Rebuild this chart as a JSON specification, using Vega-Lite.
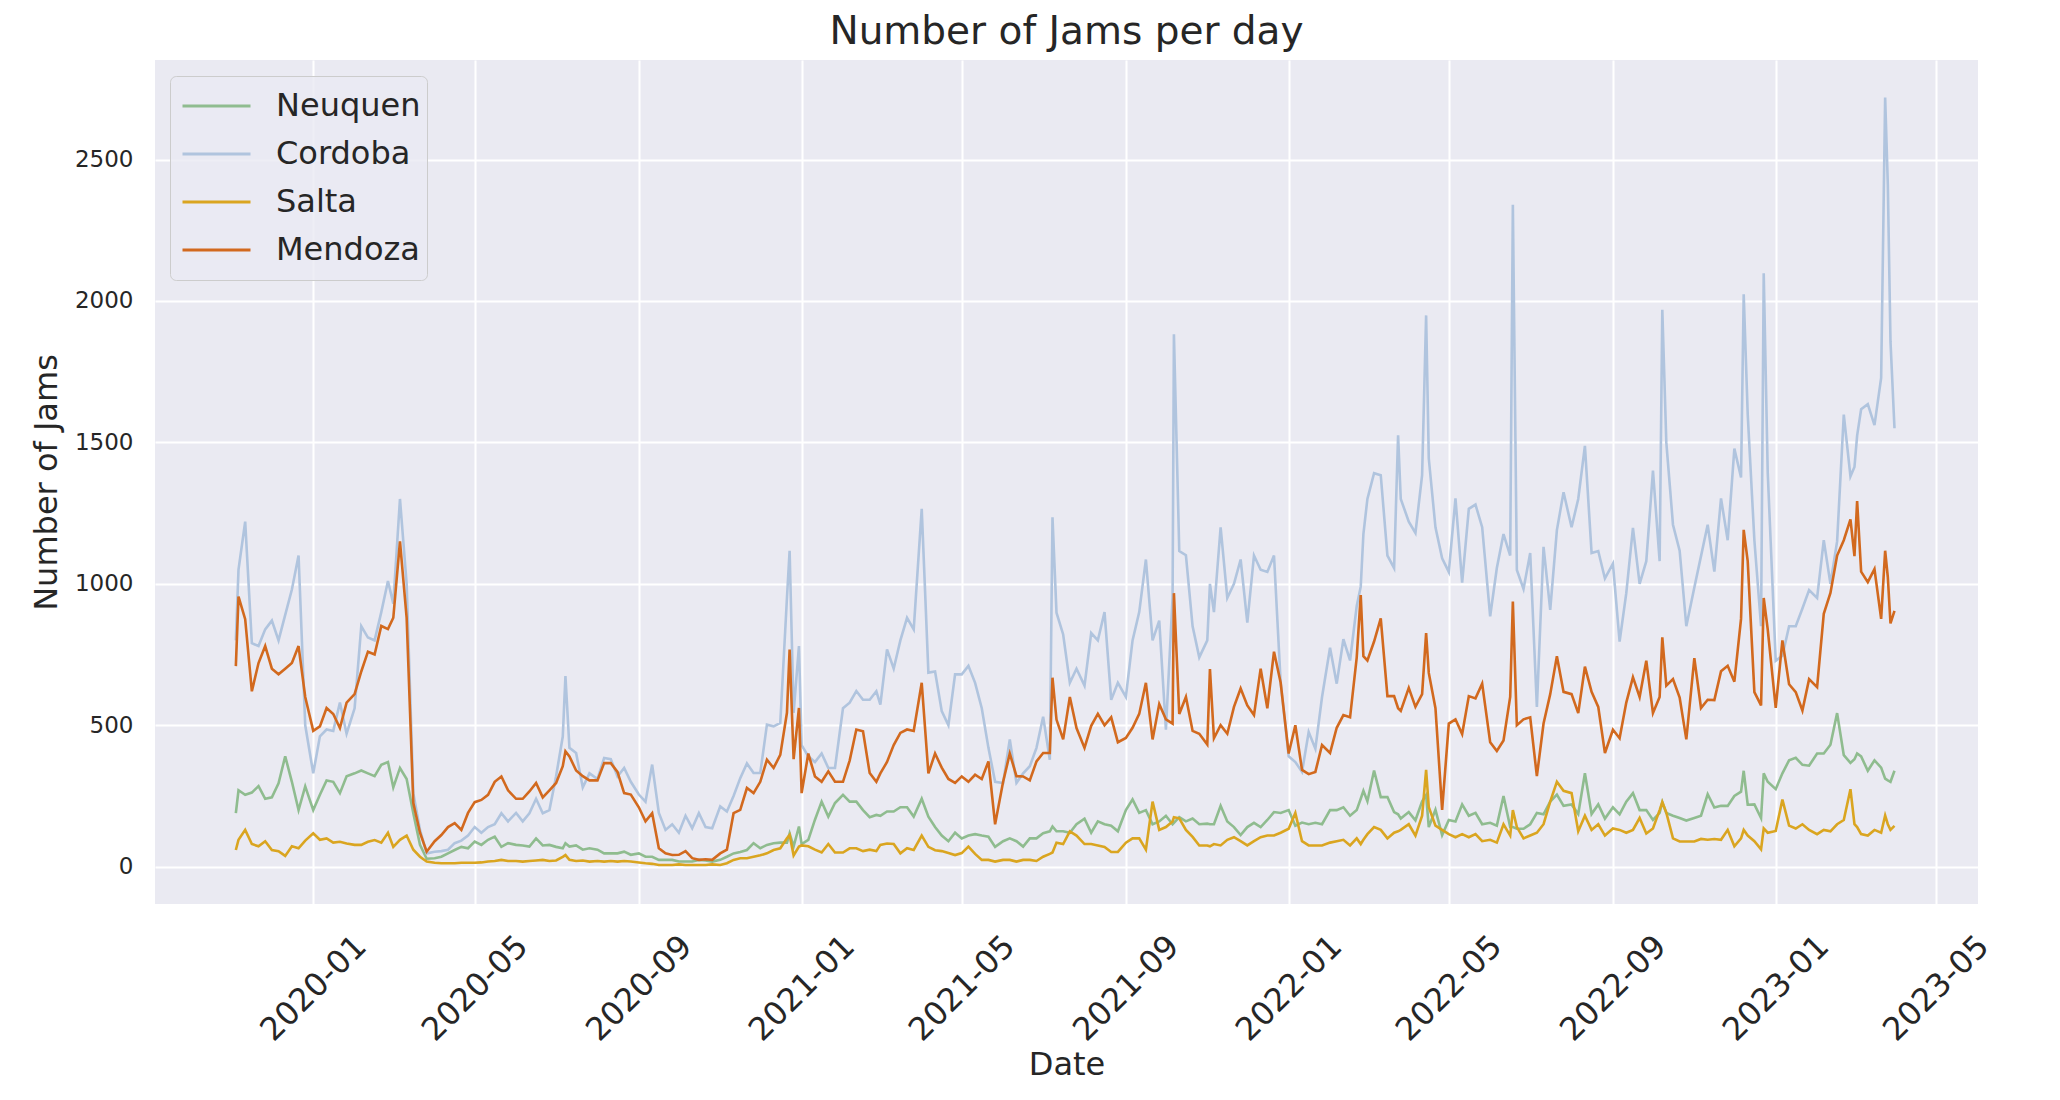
{
  "$schema": "https://vega.github.io/schema/vega-lite/v6.json",
  "width": 1823,
  "height": 844,
  "autosize": {"type": "none"},
  "padding": {"left": 155, "top": 60, "right": 82, "bottom": 196},
  "background": "#ffffff",
  "title": {
    "text": "Number of Jams per day",
    "font": "DejaVu Sans",
    "fontSize": 39,
    "fontWeight": "normal",
    "color": "#262626",
    "anchor": "middle",
    "offset": 8
  },
  "config": {
    "font": "DejaVu Sans",
    "view": {"fill": "#EAEAF2", "stroke": null}
  },
  "data": {
    "format": {"parse": {"d": "date"}},
    "values": [
      {"d":"2019-11-04","Neuquen":189,"Cordoba":800,"Salta":59,"Mendoza":709},
      {"d":"2019-11-06","Neuquen":270,"Cordoba":1050,"Salta":95,"Mendoza":955},
      {"d":"2019-11-11","Neuquen":254,"Cordoba":1220,"Salta":130,"Mendoza":875},
      {"d":"2019-11-16","Neuquen":262,"Cordoba":790,"Salta":80,"Mendoza":620},
      {"d":"2019-11-21","Neuquen":285,"Cordoba":780,"Salta":72,"Mendoza":720},
      {"d":"2019-11-26","Neuquen":240,"Cordoba":839,"Salta":90,"Mendoza":780},
      {"d":"2019-12-01","Neuquen":245,"Cordoba":870,"Salta":59,"Mendoza":700},
      {"d":"2019-12-06","Neuquen":295,"Cordoba":800,"Salta":55,"Mendoza":680},
      {"d":"2019-12-11","Neuquen":390,"Cordoba":890,"Salta":38,"Mendoza":700},
      {"d":"2019-12-16","Neuquen":300,"Cordoba":980,"Salta":72,"Mendoza":720},
      {"d":"2019-12-21","Neuquen":200,"Cordoba":1100,"Salta":65,"Mendoza":780},
      {"d":"2019-12-26","Neuquen":284,"Cordoba":500,"Salta":92,"Mendoza":600},
      {"d":"2020-01-01","Neuquen":200,"Cordoba":330,"Salta":118,"Mendoza":480},
      {"d":"2020-01-06","Neuquen":254,"Cordoba":461,"Salta":95,"Mendoza":496},
      {"d":"2020-01-11","Neuquen":305,"Cordoba":485,"Salta":100,"Mendoza":561},
      {"d":"2020-01-16","Neuquen":300,"Cordoba":480,"Salta":85,"Mendoza":540},
      {"d":"2020-01-21","Neuquen":260,"Cordoba":580,"Salta":88,"Mendoza":490},
      {"d":"2020-01-26","Neuquen":320,"Cordoba":470,"Salta":82,"Mendoza":580},
      {"d":"2020-02-01","Neuquen":330,"Cordoba":560,"Salta":77,"Mendoza":610},
      {"d":"2020-02-06","Neuquen":340,"Cordoba":850,"Salta":77,"Mendoza":690},
      {"d":"2020-02-11","Neuquen":330,"Cordoba":810,"Salta":88,"Mendoza":760},
      {"d":"2020-02-16","Neuquen":320,"Cordoba":800,"Salta":94,"Mendoza":750},
      {"d":"2020-02-21","Neuquen":360,"Cordoba":900,"Salta":85,"Mendoza":851},
      {"d":"2020-02-26","Neuquen":370,"Cordoba":1010,"Salta":120,"Mendoza":840},
      {"d":"2020-03-01","Neuquen":280,"Cordoba":930,"Salta":70,"Mendoza":880},
      {"d":"2020-03-06","Neuquen":349,"Cordoba":1300,"Salta":95,"Mendoza":1150},
      {"d":"2020-03-11","Neuquen":310,"Cordoba":1000,"Salta":110,"Mendoza":880},
      {"d":"2020-03-16","Neuquen":189,"Cordoba":260,"Salta":60,"Mendoza":225},
      {"d":"2020-03-21","Neuquen":77,"Cordoba":130,"Salta":35,"Mendoza":120},
      {"d":"2020-03-26","Neuquen":28,"Cordoba":47,"Salta":18,"Mendoza":53},
      {"d":"2020-04-01","Neuquen":30,"Cordoba":53,"Salta":14,"Mendoza":90},
      {"d":"2020-04-06","Neuquen":35,"Cordoba":55,"Salta":12,"Mendoza":112},
      {"d":"2020-04-11","Neuquen":47,"Cordoba":60,"Salta":12,"Mendoza":140},
      {"d":"2020-04-16","Neuquen":59,"Cordoba":83,"Salta":12,"Mendoza":154},
      {"d":"2020-04-21","Neuquen":70,"Cordoba":92,"Salta":14,"Mendoza":130},
      {"d":"2020-04-26","Neuquen":65,"Cordoba":110,"Salta":14,"Mendoza":190},
      {"d":"2020-05-01","Neuquen":89,"Cordoba":140,"Salta":14,"Mendoza":228},
      {"d":"2020-05-06","Neuquen":77,"Cordoba":120,"Salta":15,"Mendoza":236},
      {"d":"2020-05-11","Neuquen":95,"Cordoba":140,"Salta":18,"Mendoza":254},
      {"d":"2020-05-16","Neuquen":106,"Cordoba":150,"Salta":20,"Mendoza":300},
      {"d":"2020-05-21","Neuquen":70,"Cordoba":189,"Salta":24,"Mendoza":319},
      {"d":"2020-05-26","Neuquen":83,"Cordoba":160,"Salta":20,"Mendoza":270},
      {"d":"2020-06-01","Neuquen":77,"Cordoba":190,"Salta":20,"Mendoza":240},
      {"d":"2020-06-06","Neuquen":75,"Cordoba":160,"Salta":18,"Mendoza":240},
      {"d":"2020-06-11","Neuquen":71,"Cordoba":189,"Salta":20,"Mendoza":266},
      {"d":"2020-06-16","Neuquen":100,"Cordoba":240,"Salta":22,"Mendoza":296},
      {"d":"2020-06-21","Neuquen":75,"Cordoba":189,"Salta":24,"Mendoza":245},
      {"d":"2020-06-26","Neuquen":77,"Cordoba":200,"Salta":20,"Mendoza":270},
      {"d":"2020-07-01","Neuquen":70,"Cordoba":320,"Salta":22,"Mendoza":296},
      {"d":"2020-07-06","Neuquen":65,"Cordoba":460,"Salta":35,"Mendoza":355},
      {"d":"2020-07-08","Neuquen":83,"Cordoba":674,"Salta":41,"Mendoza":408},
      {"d":"2020-07-11","Neuquen":71,"Cordoba":420,"Salta":24,"Mendoza":390},
      {"d":"2020-07-16","Neuquen":75,"Cordoba":402,"Salta":20,"Mendoza":340},
      {"d":"2020-07-21","Neuquen":60,"Cordoba":280,"Salta":22,"Mendoza":320},
      {"d":"2020-07-26","Neuquen":65,"Cordoba":330,"Salta":18,"Mendoza":305},
      {"d":"2020-08-01","Neuquen":60,"Cordoba":310,"Salta":20,"Mendoza":305},
      {"d":"2020-08-06","Neuquen":47,"Cordoba":384,"Salta":18,"Mendoza":366},
      {"d":"2020-08-11","Neuquen":47,"Cordoba":380,"Salta":20,"Mendoza":366},
      {"d":"2020-08-16","Neuquen":47,"Cordoba":319,"Salta":18,"Mendoza":335},
      {"d":"2020-08-21","Neuquen":53,"Cordoba":349,"Salta":20,"Mendoza":260},
      {"d":"2020-08-26","Neuquen":42,"Cordoba":300,"Salta":18,"Mendoza":255},
      {"d":"2020-09-01","Neuquen":47,"Cordoba":255,"Salta":15,"Mendoza":210},
      {"d":"2020-09-06","Neuquen":35,"Cordoba":230,"Salta":12,"Mendoza":160},
      {"d":"2020-09-11","Neuquen":35,"Cordoba":361,"Salta":10,"Mendoza":189},
      {"d":"2020-09-16","Neuquen":24,"Cordoba":190,"Salta":6,"Mendoza":65},
      {"d":"2020-09-21","Neuquen":24,"Cordoba":130,"Salta":6,"Mendoza":47},
      {"d":"2020-09-26","Neuquen":24,"Cordoba":150,"Salta":6,"Mendoza":41},
      {"d":"2020-10-01","Neuquen":18,"Cordoba":120,"Salta":8,"Mendoza":42},
      {"d":"2020-10-06","Neuquen":18,"Cordoba":180,"Salta":6,"Mendoza":55},
      {"d":"2020-10-11","Neuquen":18,"Cordoba":136,"Salta":6,"Mendoza":30},
      {"d":"2020-10-16","Neuquen":24,"Cordoba":189,"Salta":6,"Mendoza":24},
      {"d":"2020-10-21","Neuquen":22,"Cordoba":140,"Salta":6,"Mendoza":26},
      {"d":"2020-10-26","Neuquen":18,"Cordoba":136,"Salta":8,"Mendoza":24},
      {"d":"2020-11-01","Neuquen":24,"Cordoba":213,"Salta":6,"Mendoza":47},
      {"d":"2020-11-06","Neuquen":35,"Cordoba":195,"Salta":12,"Mendoza":60},
      {"d":"2020-11-11","Neuquen":47,"Cordoba":250,"Salta":24,"Mendoza":189},
      {"d":"2020-11-16","Neuquen":52,"Cordoba":313,"Salta":30,"Mendoza":201},
      {"d":"2020-11-21","Neuquen":59,"Cordoba":365,"Salta":30,"Mendoza":278},
      {"d":"2020-11-26","Neuquen":83,"Cordoba":331,"Salta":35,"Mendoza":260},
      {"d":"2020-12-01","Neuquen":65,"Cordoba":331,"Salta":40,"Mendoza":300},
      {"d":"2020-12-06","Neuquen":77,"Cordoba":502,"Salta":47,"Mendoza":378},
      {"d":"2020-12-11","Neuquen":83,"Cordoba":496,"Salta":59,"Mendoza":349},
      {"d":"2020-12-16","Neuquen":85,"Cordoba":508,"Salta":65,"Mendoza":395},
      {"d":"2020-12-21","Neuquen":85,"Cordoba":950,"Salta":100,"Mendoza":544},
      {"d":"2020-12-23","Neuquen":118,"Cordoba":1117,"Salta":112,"Mendoza":768},
      {"d":"2020-12-26","Neuquen":71,"Cordoba":544,"Salta":40,"Mendoza":380},
      {"d":"2020-12-30","Neuquen":142,"Cordoba":780,"Salta":71,"Mendoza":561},
      {"d":"2021-01-01","Neuquen":80,"Cordoba":430,"Salta":75,"Mendoza":260},
      {"d":"2021-01-06","Neuquen":95,"Cordoba":390,"Salta":72,"Mendoza":400},
      {"d":"2021-01-11","Neuquen":166,"Cordoba":370,"Salta":60,"Mendoza":319},
      {"d":"2021-01-16","Neuquen":230,"Cordoba":400,"Salta":50,"Mendoza":300},
      {"d":"2021-01-21","Neuquen":177,"Cordoba":349,"Salta":80,"Mendoza":337},
      {"d":"2021-01-26","Neuquen":225,"Cordoba":349,"Salta":50,"Mendoza":300},
      {"d":"2021-02-01","Neuquen":254,"Cordoba":560,"Salta":50,"Mendoza":300},
      {"d":"2021-02-06","Neuquen":230,"Cordoba":580,"Salta":65,"Mendoza":375},
      {"d":"2021-02-11","Neuquen":230,"Cordoba":621,"Salta":65,"Mendoza":485},
      {"d":"2021-02-16","Neuquen":200,"Cordoba":590,"Salta":55,"Mendoza":479},
      {"d":"2021-02-21","Neuquen":175,"Cordoba":590,"Salta":60,"Mendoza":331},
      {"d":"2021-02-26","Neuquen":183,"Cordoba":620,"Salta":55,"Mendoza":300},
      {"d":"2021-03-01","Neuquen":180,"Cordoba":573,"Salta":77,"Mendoza":330},
      {"d":"2021-03-06","Neuquen":195,"Cordoba":768,"Salta":82,"Mendoza":370},
      {"d":"2021-03-11","Neuquen":195,"Cordoba":700,"Salta":80,"Mendoza":430},
      {"d":"2021-03-16","Neuquen":210,"Cordoba":800,"Salta":47,"Mendoza":473},
      {"d":"2021-03-21","Neuquen":210,"Cordoba":880,"Salta":65,"Mendoza":485},
      {"d":"2021-03-26","Neuquen":177,"Cordoba":839,"Salta":59,"Mendoza":480},
      {"d":"2021-04-01","Neuquen":240,"Cordoba":1265,"Salta":110,"Mendoza":650},
      {"d":"2021-04-06","Neuquen":177,"Cordoba":686,"Salta":70,"Mendoza":330},
      {"d":"2021-04-11","Neuquen":140,"Cordoba":690,"Salta":58,"Mendoza":400},
      {"d":"2021-04-16","Neuquen":110,"Cordoba":550,"Salta":55,"Mendoza":350},
      {"d":"2021-04-21","Neuquen":90,"Cordoba":500,"Salta":48,"Mendoza":310},
      {"d":"2021-04-26","Neuquen":120,"Cordoba":680,"Salta":41,"Mendoza":296},
      {"d":"2021-05-01","Neuquen":100,"Cordoba":680,"Salta":48,"Mendoza":319},
      {"d":"2021-05-06","Neuquen":110,"Cordoba":710,"Salta":71,"Mendoza":300},
      {"d":"2021-05-11","Neuquen":115,"Cordoba":650,"Salta":45,"Mendoza":325},
      {"d":"2021-05-16","Neuquen":110,"Cordoba":560,"Salta":24,"Mendoza":310},
      {"d":"2021-05-21","Neuquen":106,"Cordoba":420,"Salta":24,"Mendoza":372},
      {"d":"2021-05-26","Neuquen":70,"Cordoba":300,"Salta":18,"Mendoza":150},
      {"d":"2021-06-01","Neuquen":90,"Cordoba":296,"Salta":24,"Mendoza":300},
      {"d":"2021-06-06","Neuquen":100,"Cordoba":450,"Salta":24,"Mendoza":400},
      {"d":"2021-06-11","Neuquen":90,"Cordoba":296,"Salta":18,"Mendoza":320},
      {"d":"2021-06-16","Neuquen":71,"Cordoba":330,"Salta":24,"Mendoza":319},
      {"d":"2021-06-21","Neuquen":100,"Cordoba":355,"Salta":24,"Mendoza":305},
      {"d":"2021-06-26","Neuquen":100,"Cordoba":420,"Salta":20,"Mendoza":372},
      {"d":"2021-07-01","Neuquen":118,"Cordoba":530,"Salta":35,"Mendoza":402},
      {"d":"2021-07-06","Neuquen":125,"Cordoba":378,"Salta":45,"Mendoza":402},
      {"d":"2021-07-08","Neuquen":142,"Cordoba":1235,"Salta":50,"Mendoza":668},
      {"d":"2021-07-11","Neuquen":125,"Cordoba":898,"Salta":85,"Mendoza":520},
      {"d":"2021-07-16","Neuquen":125,"Cordoba":821,"Salta":80,"Mendoza":450},
      {"d":"2021-07-21","Neuquen":120,"Cordoba":650,"Salta":125,"Mendoza":600},
      {"d":"2021-07-26","Neuquen":150,"Cordoba":700,"Salta":110,"Mendoza":490},
      {"d":"2021-08-01","Neuquen":170,"Cordoba":640,"Salta":80,"Mendoza":420},
      {"d":"2021-08-06","Neuquen":120,"Cordoba":826,"Salta":80,"Mendoza":498},
      {"d":"2021-08-11","Neuquen":160,"Cordoba":800,"Salta":75,"Mendoza":540},
      {"d":"2021-08-16","Neuquen":150,"Cordoba":900,"Salta":70,"Mendoza":500},
      {"d":"2021-08-21","Neuquen":145,"Cordoba":590,"Salta":52,"Mendoza":528},
      {"d":"2021-08-26","Neuquen":125,"Cordoba":650,"Salta":52,"Mendoza":440},
      {"d":"2021-09-01","Neuquen":200,"Cordoba":600,"Salta":85,"Mendoza":455},
      {"d":"2021-09-06","Neuquen":238,"Cordoba":800,"Salta":100,"Mendoza":491},
      {"d":"2021-09-11","Neuquen":190,"Cordoba":900,"Salta":100,"Mendoza":540},
      {"d":"2021-09-16","Neuquen":200,"Cordoba":1086,"Salta":60,"Mendoza":650},
      {"d":"2021-09-21","Neuquen":150,"Cordoba":800,"Salta":230,"Mendoza":450},
      {"d":"2021-09-26","Neuquen":160,"Cordoba":870,"Salta":130,"Mendoza":575},
      {"d":"2021-10-01","Neuquen":180,"Cordoba":484,"Salta":140,"Mendoza":521},
      {"d":"2021-10-06","Neuquen":150,"Cordoba":952,"Salta":160,"Mendoza":506},
      {"d":"2021-10-07","Neuquen":155,"Cordoba":1882,"Salta":175,"Mendoza":967},
      {"d":"2021-10-11","Neuquen":175,"Cordoba":1116,"Salta":171,"Mendoza":540},
      {"d":"2021-10-16","Neuquen":160,"Cordoba":1101,"Salta":130,"Mendoza":600},
      {"d":"2021-10-21","Neuquen":170,"Cordoba":850,"Salta":105,"Mendoza":480},
      {"d":"2021-10-26","Neuquen":150,"Cordoba":740,"Salta":75,"Mendoza":470},
      {"d":"2021-11-01","Neuquen":152,"Cordoba":800,"Salta":75,"Mendoza":432},
      {"d":"2021-11-03","Neuquen":150,"Cordoba":1000,"Salta":72,"Mendoza":699},
      {"d":"2021-11-06","Neuquen":150,"Cordoba":900,"Salta":80,"Mendoza":454},
      {"d":"2021-11-11","Neuquen":215,"Cordoba":1200,"Salta":75,"Mendoza":500},
      {"d":"2021-11-16","Neuquen":160,"Cordoba":950,"Salta":95,"Mendoza":470},
      {"d":"2021-11-21","Neuquen":140,"Cordoba":1000,"Salta":104,"Mendoza":565},
      {"d":"2021-11-26","Neuquen":112,"Cordoba":1086,"Salta":90,"Mendoza":630},
      {"d":"2021-12-01","Neuquen":140,"Cordoba":863,"Salta":75,"Mendoza":570},
      {"d":"2021-12-06","Neuquen":155,"Cordoba":1100,"Salta":90,"Mendoza":536},
      {"d":"2021-12-11","Neuquen":140,"Cordoba":1050,"Salta":104,"Mendoza":700},
      {"d":"2021-12-16","Neuquen":165,"Cordoba":1042,"Salta":110,"Mendoza":560},
      {"d":"2021-12-21","Neuquen":193,"Cordoba":1100,"Salta":110,"Mendoza":760},
      {"d":"2021-12-26","Neuquen":190,"Cordoba":650,"Salta":120,"Mendoza":650},
      {"d":"2022-01-01","Neuquen":200,"Cordoba":390,"Salta":134,"Mendoza":400},
      {"d":"2022-01-06","Neuquen":145,"Cordoba":370,"Salta":190,"Mendoza":500},
      {"d":"2022-01-11","Neuquen":156,"Cordoba":335,"Salta":90,"Mendoza":342},
      {"d":"2022-01-16","Neuquen":150,"Cordoba":476,"Salta":75,"Mendoza":327},
      {"d":"2022-01-21","Neuquen":155,"Cordoba":417,"Salta":75,"Mendoza":335},
      {"d":"2022-01-26","Neuquen":150,"Cordoba":600,"Salta":75,"Mendoza":430},
      {"d":"2022-02-01","Neuquen":200,"Cordoba":774,"Salta":85,"Mendoza":402},
      {"d":"2022-02-06","Neuquen":200,"Cordoba":647,"Salta":90,"Mendoza":491},
      {"d":"2022-02-11","Neuquen":210,"Cordoba":804,"Salta":95,"Mendoza":536},
      {"d":"2022-02-16","Neuquen":180,"Cordoba":729,"Salta":75,"Mendoza":528},
      {"d":"2022-02-21","Neuquen":200,"Cordoba":922,"Salta":100,"Mendoza":740},
      {"d":"2022-02-24","Neuquen":240,"Cordoba":990,"Salta":80,"Mendoza":960},
      {"d":"2022-02-26","Neuquen":268,"Cordoba":1176,"Salta":95,"Mendoza":744},
      {"d":"2022-03-01","Neuquen":231,"Cordoba":1300,"Salta":115,"Mendoza":729},
      {"d":"2022-03-06","Neuquen":340,"Cordoba":1391,"Salta":140,"Mendoza":796},
      {"d":"2022-03-11","Neuquen":246,"Cordoba":1384,"Salta":130,"Mendoza":878},
      {"d":"2022-03-16","Neuquen":246,"Cordoba":1100,"Salta":100,"Mendoza":603},
      {"d":"2022-03-21","Neuquen":193,"Cordoba":1056,"Salta":120,"Mendoza":603},
      {"d":"2022-03-24","Neuquen":185,"Cordoba":1525,"Salta":125,"Mendoza":560},
      {"d":"2022-03-26","Neuquen":170,"Cordoba":1300,"Salta":130,"Mendoza":551},
      {"d":"2022-04-01","Neuquen":193,"Cordoba":1220,"Salta":150,"Mendoza":632},
      {"d":"2022-04-06","Neuquen":164,"Cordoba":1180,"Salta":110,"Mendoza":565},
      {"d":"2022-04-11","Neuquen":231,"Cordoba":1384,"Salta":180,"Mendoza":610},
      {"d":"2022-04-14","Neuquen":253,"Cordoba":1949,"Salta":342,"Mendoza":826},
      {"d":"2022-04-16","Neuquen":140,"Cordoba":1443,"Salta":210,"Mendoza":685},
      {"d":"2022-04-21","Neuquen":201,"Cordoba":1200,"Salta":145,"Mendoza":560},
      {"d":"2022-04-26","Neuquen":112,"Cordoba":1090,"Salta":130,"Mendoza":201},
      {"d":"2022-05-01","Neuquen":165,"Cordoba":1042,"Salta":115,"Mendoza":506},
      {"d":"2022-05-06","Neuquen":160,"Cordoba":1302,"Salta":104,"Mendoza":521},
      {"d":"2022-05-11","Neuquen":220,"Cordoba":1004,"Salta":115,"Mendoza":469},
      {"d":"2022-05-16","Neuquen":180,"Cordoba":1265,"Salta":104,"Mendoza":603},
      {"d":"2022-05-21","Neuquen":190,"Cordoba":1280,"Salta":115,"Mendoza":595},
      {"d":"2022-05-26","Neuquen":150,"Cordoba":1200,"Salta":90,"Mendoza":647},
      {"d":"2022-06-01","Neuquen":155,"Cordoba":885,"Salta":95,"Mendoza":440},
      {"d":"2022-06-06","Neuquen":145,"Cordoba":1056,"Salta":85,"Mendoza":409},
      {"d":"2022-06-11","Neuquen":250,"Cordoba":1176,"Salta":150,"Mendoza":446},
      {"d":"2022-06-16","Neuquen":140,"Cordoba":1100,"Salta":110,"Mendoza":600},
      {"d":"2022-06-18","Neuquen":140,"Cordoba":2340,"Salta":200,"Mendoza":937},
      {"d":"2022-06-21","Neuquen":134,"Cordoba":1049,"Salta":140,"Mendoza":500},
      {"d":"2022-06-26","Neuquen":134,"Cordoba":982,"Salta":100,"Mendoza":521},
      {"d":"2022-07-01","Neuquen":150,"Cordoba":1109,"Salta":110,"Mendoza":528},
      {"d":"2022-07-06","Neuquen":190,"Cordoba":565,"Salta":120,"Mendoza":320},
      {"d":"2022-07-11","Neuquen":185,"Cordoba":1131,"Salta":150,"Mendoza":506},
      {"d":"2022-07-16","Neuquen":230,"Cordoba":908,"Salta":230,"Mendoza":610},
      {"d":"2022-07-21","Neuquen":255,"Cordoba":1190,"Salta":300,"Mendoza":744},
      {"d":"2022-07-26","Neuquen":215,"Cordoba":1324,"Salta":268,"Mendoza":618},
      {"d":"2022-08-01","Neuquen":220,"Cordoba":1200,"Salta":260,"Mendoza":610},
      {"d":"2022-08-06","Neuquen":186,"Cordoba":1300,"Salta":125,"Mendoza":543},
      {"d":"2022-08-11","Neuquen":330,"Cordoba":1488,"Salta":180,"Mendoza":707},
      {"d":"2022-08-16","Neuquen":186,"Cordoba":1109,"Salta":130,"Mendoza":618},
      {"d":"2022-08-21","Neuquen":220,"Cordoba":1116,"Salta":150,"Mendoza":565},
      {"d":"2022-08-26","Neuquen":170,"Cordoba":1019,"Salta":110,"Mendoza":402},
      {"d":"2022-09-01","Neuquen":210,"Cordoba":1071,"Salta":135,"Mendoza":484},
      {"d":"2022-09-06","Neuquen":185,"Cordoba":796,"Salta":130,"Mendoza":454},
      {"d":"2022-09-11","Neuquen":230,"Cordoba":967,"Salta":120,"Mendoza":580},
      {"d":"2022-09-16","Neuquen":260,"Cordoba":1198,"Salta":130,"Mendoza":670},
      {"d":"2022-09-21","Neuquen":200,"Cordoba":1000,"Salta":172,"Mendoza":600},
      {"d":"2022-09-26","Neuquen":200,"Cordoba":1080,"Salta":117,"Mendoza":728},
      {"d":"2022-10-01","Neuquen":165,"Cordoba":1400,"Salta":135,"Mendoza":543},
      {"d":"2022-10-06","Neuquen":190,"Cordoba":1080,"Salta":200,"Mendoza":600},
      {"d":"2022-10-08","Neuquen":228,"Cordoba":1969,"Salta":228,"Mendoza":811},
      {"d":"2022-10-11","Neuquen":190,"Cordoba":1500,"Salta":191,"Mendoza":640},
      {"d":"2022-10-16","Neuquen":180,"Cordoba":1209,"Salta":100,"Mendoza":663},
      {"d":"2022-10-21","Neuquen":172,"Cordoba":1117,"Salta":89,"Mendoza":598},
      {"d":"2022-10-26","Neuquen":163,"Cordoba":850,"Salta":89,"Mendoza":450},
      {"d":"2022-11-01","Neuquen":172,"Cordoba":987,"Salta":89,"Mendoza":737},
      {"d":"2022-11-06","Neuquen":180,"Cordoba":1098,"Salta":98,"Mendoza":561},
      {"d":"2022-11-11","Neuquen":256,"Cordoba":1209,"Salta":95,"Mendoza":590},
      {"d":"2022-11-16","Neuquen":209,"Cordoba":1043,"Salta":98,"Mendoza":589},
      {"d":"2022-11-21","Neuquen":215,"Cordoba":1302,"Salta":95,"Mendoza":691},
      {"d":"2022-11-26","Neuquen":215,"Cordoba":1154,"Salta":130,"Mendoza":710},
      {"d":"2022-12-01","Neuquen":250,"Cordoba":1478,"Salta":72,"Mendoza":654},
      {"d":"2022-12-06","Neuquen":265,"Cordoba":1376,"Salta":100,"Mendoza":876},
      {"d":"2022-12-08","Neuquen":339,"Cordoba":2024,"Salta":130,"Mendoza":1191},
      {"d":"2022-12-11","Neuquen":219,"Cordoba":1600,"Salta":110,"Mendoza":1080},
      {"d":"2022-12-16","Neuquen":220,"Cordoba":1154,"Salta":90,"Mendoza":617},
      {"d":"2022-12-21","Neuquen":172,"Cordoba":850,"Salta":61,"Mendoza":570},
      {"d":"2022-12-23","Neuquen":330,"Cordoba":2098,"Salta":135,"Mendoza":950},
      {"d":"2022-12-26","Neuquen":300,"Cordoba":1394,"Salta":120,"Mendoza":839},
      {"d":"2023-01-01","Neuquen":274,"Cordoba":728,"Salta":126,"Mendoza":561},
      {"d":"2023-01-06","Neuquen":330,"Cordoba":746,"Salta":237,"Mendoza":800},
      {"d":"2023-01-11","Neuquen":376,"Cordoba":850,"Salta":145,"Mendoza":645},
      {"d":"2023-01-16","Neuquen":385,"Cordoba":850,"Salta":135,"Mendoza":617},
      {"d":"2023-01-21","Neuquen":360,"Cordoba":913,"Salta":150,"Mendoza":552},
      {"d":"2023-01-26","Neuquen":357,"Cordoba":978,"Salta":130,"Mendoza":663},
      {"d":"2023-02-01","Neuquen":400,"Cordoba":950,"Salta":115,"Mendoza":635},
      {"d":"2023-02-06","Neuquen":400,"Cordoba":1154,"Salta":130,"Mendoza":894},
      {"d":"2023-02-11","Neuquen":431,"Cordoba":1000,"Salta":125,"Mendoza":968},
      {"d":"2023-02-16","Neuquen":543,"Cordoba":1150,"Salta":150,"Mendoza":1100},
      {"d":"2023-02-21","Neuquen":394,"Cordoba":1598,"Salta":165,"Mendoza":1154},
      {"d":"2023-02-26","Neuquen":367,"Cordoba":1380,"Salta":274,"Mendoza":1228},
      {"d":"2023-03-01","Neuquen":380,"Cordoba":1413,"Salta":150,"Mendoza":1098},
      {"d":"2023-03-03","Neuquen":400,"Cordoba":1524,"Salta":140,"Mendoza":1293},
      {"d":"2023-03-06","Neuquen":390,"Cordoba":1617,"Salta":115,"Mendoza":1043},
      {"d":"2023-03-11","Neuquen":339,"Cordoba":1635,"Salta":110,"Mendoza":1006},
      {"d":"2023-03-16","Neuquen":376,"Cordoba":1561,"Salta":130,"Mendoza":1052},
      {"d":"2023-03-21","Neuquen":350,"Cordoba":1728,"Salta":120,"Mendoza":876},
      {"d":"2023-03-24","Neuquen":311,"Cordoba":2719,"Salta":181,"Mendoza":1117},
      {"d":"2023-03-26","Neuquen":305,"Cordoba":2413,"Salta":150,"Mendoza":1024},
      {"d":"2023-03-28","Neuquen":300,"Cordoba":1857,"Salta":130,"Mendoza":860},
      {"d":"2023-03-31","Neuquen":339,"Cordoba":1550,"Salta":144,"Mendoza":904}
    ]
  },
  "transform": [
    {"fold": ["Neuquen", "Cordoba", "Salta", "Mendoza"], "as": ["region", "jams"]}
  ],
  "mark": {"type": "line", "strokeWidth": 2.6},
  "encoding": {
    "x": {
      "field": "d",
      "type": "temporal",
      "title": "Date",
      "scale": {
        "type": "utc",
        "domain": [
          {"year": 2019, "month": 9, "date": 4, "hours": 10, "utc": true},
          {"year": 2023, "month": 6, "date": 1, "hours": 14, "utc": true}
        ]
      },
      "axis": {
        "values": [
          {"year": 2020, "month": 1, "date": 1, "utc": true},
          {"year": 2020, "month": 5, "date": 1, "utc": true},
          {"year": 2020, "month": 9, "date": 1, "utc": true},
          {"year": 2021, "month": 1, "date": 1, "utc": true},
          {"year": 2021, "month": 5, "date": 1, "utc": true},
          {"year": 2021, "month": 9, "date": 1, "utc": true},
          {"year": 2022, "month": 1, "date": 1, "utc": true},
          {"year": 2022, "month": 5, "date": 1, "utc": true},
          {"year": 2022, "month": 9, "date": 1, "utc": true},
          {"year": 2023, "month": 1, "date": 1, "utc": true},
          {"year": 2023, "month": 5, "date": 1, "utc": true}
        ],
        "labelExpr": "utcFormat(datum.value, '%Y-%m')",
        "labelAngle": -45,
        "labelAlign": "center",
        "labelBaseline": "middle",
        "labelPadding": 84,
        "labelFontSize": 32,
        "labelColor": "#262626",
        "labelFlush": false,
        "labelOverlap": false,
        "ticks": false,
        "tickSize": 0,
        "domain": false,
        "grid": true,
        "gridColor": "#ffffff",
        "gridWidth": 2,
        "titleFontSize": 32,
        "titleFontWeight": "normal",
        "titleColor": "#262626",
        "titleBaseline": "middle",
        "titleY": 160
      }
    },
    "y": {
      "field": "jams",
      "type": "quantitative",
      "title": "Number of Jams",
      "scale": {"domain": [-132, 2852], "nice": false, "zero": false},
      "axis": {
        "values": [0, 500, 1000, 1500, 2000, 2500],
        "format": "d",
        "labelFontSize": 23,
        "labelColor": "#262626",
        "labelPadding": 22,
        "ticks": false,
        "tickSize": 0,
        "domain": false,
        "grid": true,
        "gridColor": "#ffffff",
        "gridWidth": 2,
        "titleFontSize": 32,
        "titleFontWeight": "normal",
        "titleColor": "#262626",
        "titleAngle": -90,
        "titleAlign": "center",
        "titleBaseline": "middle",
        "titleX": -109,
        "titleY": 422
      }
    },
    "color": {
      "field": "region",
      "type": "nominal",
      "scale": {
        "domain": ["Neuquen", "Cordoba", "Salta", "Mendoza"],
        "range": ["#8FBC8F", "#B0C4DE", "#DAA520", "#D2691E"]
      },
      "legend": {
        "title": null,
        "orient": "none",
        "legendX": 15,
        "legendY": 16,
        "symbolType": "stroke",
        "symbolSize": 4624,
        "symbolStrokeWidth": 3,
        "clipHeight": 48,
        "rowPadding": 0,
        "labelFontSize": 32,
        "labelColor": "#262626",
        "labelOffset": 24,
        "padding": 6,
        "symbolOffset": 5,
        "fillColor": "rgba(234,234,242,0.8)",
        "strokeColor": "#cccccc",
        "cornerRadius": 6
      }
    }
  }
}
